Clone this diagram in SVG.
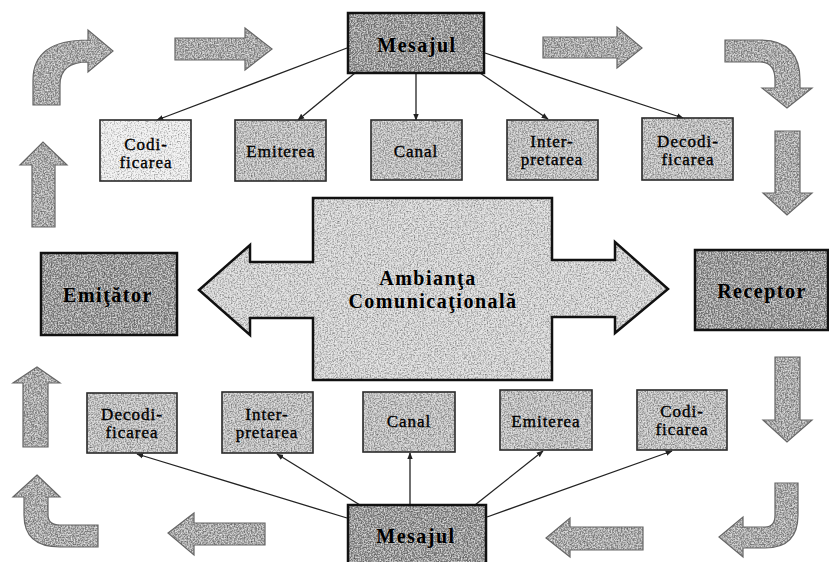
<svg xmlns="http://www.w3.org/2000/svg" width="829" height="562" viewBox="0 0 829 562">
<defs>
<filter id="grain" x="0" y="0" width="100%" height="100%">
<feTurbulence type="fractalNoise" baseFrequency="0.7" numOctaves="2" seed="4" result="t"/>
<feColorMatrix in="t" type="matrix" values="0 0 0 0 0  0 0 0 0 0  0 0 0 0 0  -1.8 0 0 0 0.95" result="dark"/>
<feColorMatrix in="t" type="matrix" values="0 0 0 0 1  0 0 0 0 1  0 0 0 0 1  1.8 0 0 0 -0.8" result="light"/>
<feMerge result="m"><feMergeNode in="SourceGraphic"/><feMergeNode in="dark"/><feMergeNode in="light"/></feMerge>
<feComposite in="m" in2="SourceAlpha" operator="in"/>
</filter>
<marker id="ah" viewBox="0 0 10 10" refX="9" refY="5" markerWidth="7" markerHeight="7" markerUnits="userSpaceOnUse" orient="auto">
<path d="M0,1 L10,5 L0,9 Z" fill="#222"/>
</marker>
<path id="p-tl" d="M33,105 L33,80 Q33,40 88,40 L88,30 L113,51 L88,72 L88,62 Q60,62 60,85 L60,105 Z"/>
<path id="p-t1" d="M175,38 L245,38 L245,28 L272,49 L245,70 L245,60 L175,60 Z"/>
<path id="p-t2" d="M543,37 L617,37 L617,27 L642,48 L617,68 L617,58 L543,58 Z"/>
<path id="p-tr" d="M725,40 L760,40 Q800,40 800,80 L800,88 L812,88 L787,108 L762,88 L775,88 L775,80 Q775,62 760,62 L725,62 Z"/>
<path id="p-r1" d="M775,131 L800,131 L800,193 L812,193 L787,215 L763,193 L775,193 Z"/>
<path id="p-r2" d="M775,357 L800,357 L800,420 L812,420 L787,442 L763,420 L775,420 Z"/>
<path id="p-br" d="M775,483 L798,483 L798,515 Q798,548 765,548 L743,548 L743,557 L719,537 L743,517 L743,527 L765,527 Q775,527 775,515 Z"/>
<path id="p-b2" d="M643,527 L570,527 L570,518 L546,538 L570,557 L570,550 L643,550 Z"/>
<path id="p-b1" d="M265,523 L194,523 L194,513 L168,533 L194,555 L194,545 L265,545 Z"/>
<path id="p-bl" d="M37,475 L60,497 L48,497 L48,515 Q48,525 60,525 L98,525 L98,547 L60,547 Q24,547 24,515 L24,497 L13,497 Z"/>
<path id="p-l2" d="M23,447 L48,447 L48,383 L60,383 L37,367 L13,383 L23,383 Z"/>
<path id="p-l1" d="M32,227 L55,227 L55,165 L67,165 L43,142 L20,165 L32,165 Z"/>
<path id="p-center" d="M313,198 L552,198 L552,260 L615,260 L615,242 L668,289 L615,333 L615,317 L552,317 L552,380 L313,380 L313,318 L250,318 L250,335 L199,290 L250,245 L250,262 L313,262 Z"/>
<style>
.fd{fill:#8e8e8e;filter:url(#grain)}
.fm{fill:#bababa;filter:url(#grain)}
.fl{fill:#ededed;filter:url(#grain)}
.fc{fill:#d0d0d0;filter:url(#grain)}
.fa{fill:#a2a2a2;filter:url(#grain)}
.sd{fill:none;stroke:#111;stroke-width:2.5}
.sm{fill:none;stroke:#2a2a2a;stroke-width:1.6}
.sa{fill:none;stroke:#666;stroke-width:1.2}
.lbl{font-family:"Liberation Serif",serif;font-size:17px;fill:#000;stroke:#000;stroke-width:0.35;text-anchor:middle;letter-spacing:1px}
.big{font-family:"Liberation Serif",serif;font-size:20px;font-weight:bold;fill:#000;text-anchor:middle;letter-spacing:1.5px}
.conn line{stroke:#222;stroke-width:1.3;marker-end:url(#ah)}
</style>
</defs>
<rect width="829" height="562" fill="#fff"/>

<g id="flow-arrows">
<use href="#p-tl" class="fa"/><use href="#p-tl" class="sa"/>
<use href="#p-t1" class="fa"/><use href="#p-t1" class="sa"/>
<use href="#p-t2" class="fa"/><use href="#p-t2" class="sa"/>
<use href="#p-tr" class="fa"/><use href="#p-tr" class="sa"/>
<use href="#p-r1" class="fa"/><use href="#p-r1" class="sa"/>
<use href="#p-r2" class="fa"/><use href="#p-r2" class="sa"/>
<use href="#p-br" class="fa"/><use href="#p-br" class="sa"/>
<use href="#p-b2" class="fa"/><use href="#p-b2" class="sa"/>
<use href="#p-b1" class="fa"/><use href="#p-b1" class="sa"/>
<use href="#p-bl" class="fa"/><use href="#p-bl" class="sa"/>
<use href="#p-l2" class="fa"/><use href="#p-l2" class="sa"/>
<use href="#p-l1" class="fa"/><use href="#p-l1" class="sa"/>
</g>

<g id="connectors" class="conn">
<line x1="347" y1="48" x2="157" y2="120"/>
<line x1="355" y1="73" x2="298" y2="120"/>
<line x1="416" y1="73" x2="416" y2="120"/>
<line x1="480" y1="73" x2="548" y2="119"/>
<line x1="485" y1="53" x2="683" y2="118"/>
<line x1="347" y1="518" x2="137" y2="454"/>
<line x1="360" y1="505" x2="277" y2="454"/>
<line x1="410" y1="505" x2="410" y2="453"/>
<line x1="475" y1="505" x2="543" y2="451"/>
<line x1="487" y1="517" x2="672" y2="451"/>
</g>

<g id="mesajul-top">
<rect class="fd" x="348" y="13" width="136" height="60"/><rect class="sd" x="348" y="13" width="136" height="60"/>
<text class="big" x="417" y="52">Mesajul</text>
</g>

<g id="codificarea-top">
<rect class="fl" x="100" y="120" width="91" height="61"/><rect class="sm" x="100" y="120" width="91" height="61"/>
<text class="lbl" x="146" y="150">Codi-</text>
<text class="lbl" x="146" y="168">ficarea</text>
</g>
<g id="emiterea-top">
<rect class="fm" x="235" y="120" width="91" height="61"/><rect class="sm" x="235" y="120" width="91" height="61"/>
<text class="lbl" x="281" y="157">Emiterea</text>
</g>
<g id="canal-top">
<rect class="fm" x="371" y="120" width="91" height="60"/><rect class="sm" x="371" y="120" width="91" height="60"/>
<text class="lbl" x="416" y="157">Canal</text>
</g>
<g id="interpretarea-top">
<rect class="fm" x="507" y="120" width="91" height="60"/><rect class="sm" x="507" y="120" width="91" height="60"/>
<text class="lbl" x="552" y="147">Inter-</text>
<text class="lbl" x="552" y="165">pretarea</text>
</g>
<g id="decodificarea-top">
<rect class="fm" x="642" y="118" width="91" height="62"/><rect class="sm" x="642" y="118" width="91" height="62"/>
<text class="lbl" x="688" y="147">Decodi-</text>
<text class="lbl" x="688" y="165">ficarea</text>
</g>

<g id="emitator">
<rect class="fd" x="41" y="253" width="136" height="82"/><rect class="sd" x="41" y="253" width="136" height="82"/>
<text class="big" x="108" y="302">Emiţător</text>
</g>

<g id="ambianta">
<use href="#p-center" class="fc"/><use href="#p-center" class="sd"/>
<text class="big" x="428" y="285">Ambianţa</text>
<text class="big" x="433" y="308">Comunicaţională</text>
</g>

<g id="receptor">
<rect class="fd" x="695" y="250" width="133" height="80"/><rect class="sd" x="695" y="250" width="133" height="80"/>
<text class="big" x="762" y="298">Receptor</text>
</g>

<g id="decodificarea-bottom">
<rect class="fm" x="87" y="393" width="90" height="60"/><rect class="sm" x="87" y="393" width="90" height="60"/>
<text class="lbl" x="132" y="420">Decodi-</text>
<text class="lbl" x="132" y="438">ficarea</text>
</g>
<g id="interpretarea-bottom">
<rect class="fm" x="222" y="392" width="91" height="61"/><rect class="sm" x="222" y="392" width="91" height="61"/>
<text class="lbl" x="267" y="420">Inter-</text>
<text class="lbl" x="267" y="438">pretarea</text>
</g>
<g id="canal-bottom">
<rect class="fm" x="363" y="392" width="92" height="60"/><rect class="sm" x="363" y="392" width="92" height="60"/>
<text class="lbl" x="409" y="427">Canal</text>
</g>
<g id="emiterea-bottom">
<rect class="fm" x="500" y="390" width="92" height="60"/><rect class="sm" x="500" y="390" width="92" height="60"/>
<text class="lbl" x="546" y="427">Emiterea</text>
</g>
<g id="codificarea-bottom">
<rect class="fm" x="637" y="390" width="90" height="60"/><rect class="sm" x="637" y="390" width="90" height="60"/>
<text class="lbl" x="682" y="417">Codi-</text>
<text class="lbl" x="682" y="435">ficarea</text>
</g>

<g id="mesajul-bottom">
<rect class="fd" x="348" y="505" width="138" height="62"/><rect class="sd" x="348" y="505" width="138" height="62"/>
<text class="big" x="416" y="543">Mesajul</text>
</g>
</svg>
